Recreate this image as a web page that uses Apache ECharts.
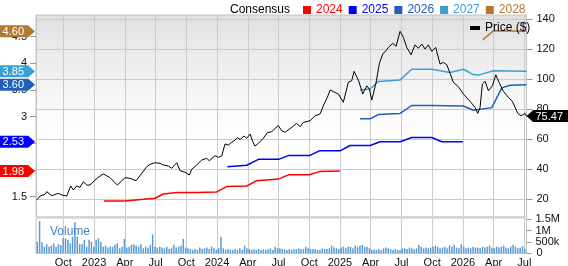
<!DOCTYPE html>
<html>
<head>
<meta charset="utf-8">
<script src="https://cdn.jsdelivr.net/npm/echarts@6/dist/echarts.min.js"></script>
<style>
html,body{margin:0;padding:0;background:#fff;}
#chart{width:568px;height:266px;}
</style>
</head>
<body>
<div id="chart"></div>
<script>
// x values are months counted from Jan 2022 (0 = Jan 2022)
var tickMonths = [9, 12, 15, 18, 21, 24, 27, 30, 33, 36, 39, 42, 45, 48, 51, 54];
var tickLabels = ['Oct', '2023', 'Apr', 'Jul', 'Oct', '2024', 'Apr', 'Jul', 'Oct', '2025', 'Apr', 'Jul', 'Oct', '2026', 'Apr', 'Jul'];

var priceTicks = [20, 40, 60, 80, 100, 120, 140];
var epsTicks = [1.5, 2, 2.5, 3, 3.5, 4, 4.5];
var volTicks = [0, 500000, 1000000, 1500000];
var volTickLabels = ['0', '500k', '1M', '1.5M'];

var years = ['2024', '2025', '2026', '2027', '2028'];
var yearColors = ['#ff0000', '#0000ff', '#1f5fb8', '#3ba0d2', '#b27a2e'];

// consensus EPS estimate per fiscal year [month, eps]
var eps2024 = [[12.97,1.42],[15.02,1.42],[16.81,1.45],[17.95,1.47],[18.76,1.55],[20.07,1.58],[22.02,1.58],[23.97,1.59],[24.95,1.69],[26.90,1.70],[27.88,1.80],[29.99,1.83],[30.96,1.91],[33.01,1.91],[33.99,1.97],[36.01,1.98]];
var eps2025 = [[25.01,2.06],[26.90,2.09],[28.04,2.20],[30.00,2.20],[30.96,2.27],[33.01,2.27],[33.99,2.36],[36.01,2.36],[36.99,2.46],[38.94,2.46],[39.92,2.53],[41.87,2.53],[43.01,2.61],[44.96,2.61],[45.94,2.53],[47.99,2.53]];
var eps2026 = [[37.96,2.96],[38.94,2.96],[39.75,3.04],[41.87,3.06],[43.01,3.21],[44.96,3.21],[48.05,3.20],[49.02,3.12],[50.82,3.17],[51.80,3.54],[52.61,3.59],[54.21,3.60]];
var eps2027 = [[37.96,3.50],[38.94,3.52],[39.75,3.66],[41.87,3.69],[43.01,3.89],[44.96,3.89],[46.75,3.83],[48.05,3.89],[49.02,3.79],[49.51,3.78],[50.97,3.86],[54.21,3.85]];
var eps2028 = [[49.94,4.44],[50.97,4.61],[54.21,4.60]];

var tagValues = [4.60, 3.85, 3.60, 2.53, 1.98];
var tagColors = ['#b27a2e', '#3ba0d2', '#1f5fb8', '#0000ff', '#ff0000'];
var lastPrice = 75.47;

var price = [[6.40,19.5],[6.73,22.2],[7.21,23.3],[7.38,25.1],[7.87,22.4],[8.51,24.0],[8.84,22.9],[9.33,22.2],[9.72,28.9],[9.98,26.2],[10.31,28.9],[10.63,28.0],[10.95,31.7],[11.28,29.5],[11.61,29.5],[12.09,32.9],[12.58,35.5],[12.90,36.9],[13.56,34.4],[14.27,29.5],[15.02,34.4],[15.51,34.0],[16.10,32.4],[16.65,37.3],[17.14,41.7],[17.46,43.3],[17.95,44.4],[18.44,44.0],[18.76,42.9],[19.25,42.2],[19.58,40.7],[20.07,44.4],[20.39,39.1],[20.88,38.0],[21.30,36.2],[21.53,40.0],[22.02,42.9],[22.51,46.2],[23.00,47.3],[23.25,45.7],[23.81,49.1],[24.13,48.0],[24.46,48.9],[24.78,56.9],[25.11,56.2],[25.44,58.0],[25.76,59.5],[25.99,61.1],[26.25,60.0],[26.64,62.2],[26.90,60.7],[27.23,63.5],[27.49,58.4],[27.71,55.5],[28.04,57.3],[28.52,60.7],[28.91,64.4],[29.34,65.1],[29.67,67.3],[29.99,69.1],[30.32,65.7],[30.64,64.7],[31.30,68.0],[31.78,70.7],[32.11,68.4],[32.43,71.3],[33.08,72.4],[33.57,75.7],[34.06,76.9],[34.45,83.5],[34.77,88.0],[35.04,92.9],[35.52,91.3],[35.85,90.2],[36.33,84.7],[36.82,98.0],[37.15,99.1],[37.38,105.3],[37.80,99.5],[38.23,90.2],[38.62,95.7],[38.87,93.5],[39.11,86.2],[39.53,98.0],[39.85,110.7],[40.18,116.9],[40.50,119.1],[40.73,121.3],[41.16,124.0],[41.48,122.0],[41.87,132.0],[42.19,128.0],[42.52,121.3],[42.94,116.4],[43.33,123.0],[43.65,120.7],[43.99,123.5],[44.31,120.2],[44.63,123.0],[44.96,118.7],[45.35,121.3],[45.77,110.2],[46.09,111.3],[46.43,109.7],[46.75,104.0],[47.07,98.0],[47.56,95.1],[48.05,90.2],[48.70,85.3],[49.19,81.3],[49.45,77.3],[49.68,81.3],[49.90,96.9],[50.17,98.7],[50.49,92.4],[50.88,95.7],[51.21,103.0],[51.53,98.0],[51.95,92.0],[52.44,88.0],[52.83,85.3],[53.36,77.3],[53.68,75.7],[54.07,77.3],[54.21,75.47]];

// weekly volume, thousands of shares, first week mid Jul 2022
var volStart = 6.45;
var volume = [510,1420,480,290,400,290,340,440,290,400,360,
  660,660,590,440,730,1360,730,400,400,590,290,590,510,290,
  590,660,510,290,340,250,290,290,370,440,220,290,630,250,
  290,370,400,340,290,400,220,290,250,370,830,290,250,290,
  250,220,290,190,250,370,250,290,340,630,250,220,190,150,
  190,150,250,190,220,250,190,290,220,150,220,720,220,150,
  190,150,150,190,150,220,150,340,220,190,150,180,150,190,
  150,180,150,180,220,150,290,220,220,190,180,150,190,150,
  180,190,220,180,190,290,220,190,180,190,150,150,220,190,
  190,220,340,250,220,190,250,290,220,290,290,220,340,290,
  340,370,290,290,220,150,180,150,190,150,220,250,220,190,
  150,190,150,150,220,220,190,250,220,180,220,370,290,220,
  250,220,250,290,340,290,220,250,290,220,340,290,370,250,
  220,400,290,220,250,220,290,250,250,220,290,250,290,340,
  250,220,290,250,290,340,250,220,290,370,290,220,250,310,200];

var chartDom = document.getElementById('chart');
var myChart = echarts.init(chartDom, null, {renderer: 'canvas'});

// tag shape drawn on a canvas, used as label background
function tagImage(color, dir) {
    var c = document.createElement('canvas');
    c.width = 80; c.height = 24;
    var g = c.getContext('2d');
    g.fillStyle = color;
    g.beginPath();
    if (dir === 'right') {
        g.moveTo(0, 0); g.lineTo(70, 0); g.lineTo(80, 12); g.lineTo(70, 24); g.lineTo(0, 24);
    } else {
        g.moveTo(10, 0); g.lineTo(80, 0); g.lineTo(80, 24); g.lineTo(10, 24); g.lineTo(0, 12);
    }
    g.closePath();
    g.fill();
    return c;
}

var tagRich = {};
tagValues.forEach(function (v, i) {
    tagRich['t' + i] = {
        color: '#fff', fontSize: 11, lineHeight: 12,
        padding: [1, 11, 0, 4],
        backgroundColor: {image: tagImage(tagColors[i], 'right')}
    };
});

function volData() {
    var out = [];
    for (var i = 0; i < volume.length; i++) {
        out.push([volStart + i * 7 / 30.44, volume[i] * 1000]);
    }
    return out;
}

function volLabel(v) {
    var i = volTicks.indexOf(Math.round(v));
    return i < 0 ? '' : volTickLabels[i];
}

var epsSeries = [eps2024, eps2025, eps2026, eps2027, eps2028];
var series = epsSeries.map(function (d, i) {
    return {
        name: years[i], type: 'line', xAxisIndex: 0, yAxisIndex: 0,
        data: d, showSymbol: false, symbol: 'none',
        lineStyle: {color: yearColors[i], width: 1.5},
        itemStyle: {color: yearColors[i]}
    };
});
series.push({
    name: 'Price ($)', type: 'line', xAxisIndex: 0, yAxisIndex: 1,
    data: price, showSymbol: false, symbol: 'none',
    lineStyle: {color: '#000', width: 1},
    itemStyle: {color: '#000'}
});
series.push({
    name: 'Volume', type: 'bar', xAxisIndex: 1, yAxisIndex: 4,
    data: volData(), barWidth: 1.5,
    itemStyle: {color: '#5b9bd5'}
});

var gridLine = {show: true, lineStyle: {color: '#cbcbcb', width: 1}};
var labelFont = {color: '#111', fontSize: 11, fontFamily: 'Liberation Sans'};

var option = {
    animation: false,
    textStyle: {fontFamily: 'Liberation Sans'},
    title: [
        {text: 'Consensus', left: 225, top: -1,
         textStyle: {fontSize: 12, fontWeight: 'normal', color: '#000'}},
        {text: 'Volume', left: 45, top: 221,
         textStyle: {fontSize: 12, fontWeight: 'normal', color: '#3d85c6'}}
    ],
    legend: [
        {
            left: 298, top: -1, itemWidth: 8, itemHeight: 8, itemGap: 6, icon: 'rect',
            selectedMode: false,
            data: years.map(function (y, i) {
                return {name: y, textStyle: {color: yearColors[i], fontSize: 12}};
            })
        },
        {
            left: 465, top: 17, itemWidth: 10, itemHeight: 4, icon: 'rect',
            selectedMode: false,
            data: [{name: 'Price ($)', textStyle: {color: '#000', fontSize: 12}}]
        }
    ],
    grid: [
        {left: 36, right: 41.5, top: 15, height: 202, outerBoundsMode: 'none', containLabel: false,
         show: true, borderColor: '#c4c4c4', borderWidth: 1,
         backgroundColor: {type: 'linear', x: 0, y: 0, x2: 0, y2: 1,
            colorStops: [{offset: 0, color: '#e1e1e1'}, {offset: 0.5, color: '#fbfbfb'}, {offset: 0.62, color: '#ffffff'}]}},
        {left: 36, right: 41.5, top: 218, bottom: 12.7, outerBoundsMode: 'none', containLabel: false,
         show: true, borderColor: '#c4c4c4', borderWidth: 1, backgroundColor: '#fff'}
    ],
    xAxis: [
        {
            gridIndex: 0, type: 'value', min: 6.33, max: 54.21,
            axisLine: {show: true, onZero: false, lineStyle: {color: '#d6d6d6', width: 2}},
            axisTick: {show: false, customValues: tickMonths},
            axisLabel: {show: false, customValues: tickMonths},
            splitLine: gridLine
        },
        {
            gridIndex: 1, type: 'value', min: 6.33, max: 54.21,
            axisLine: {show: false, onZero: false},
            axisTick: {show: false, customValues: tickMonths},
            axisLabel: Object.assign({show: true, margin: 4, customValues: tickMonths,
                showMinLabel: true, showMaxLabel: true,
                formatter: function (v) {
                    var i = tickMonths.indexOf(Math.round(v));
                    return i < 0 ? '' : tickLabels[i];
                }}, labelFont),
            splitLine: gridLine
        }
    ],
    yAxis: [
        {
            gridIndex: 0, type: 'value', position: 'left', min: 1.119, max: 4.907,
            axisLine: {show: true, onZero: false, lineStyle: {color: '#c4c4c4'}},
            axisTick: {show: true, length: 6, customValues: epsTicks, lineStyle: {color: '#999'}},
            axisLabel: Object.assign({margin: 9, customValues: epsTicks}, labelFont),
            splitLine: {show: false}
        },
        {
            gridIndex: 0, type: 'value', position: 'right', min: 8.2, max: 142.9,
            axisLine: {show: true, onZero: false, lineStyle: {color: '#c4c4c4'}},
            axisTick: {show: true, length: 6, customValues: priceTicks, lineStyle: {color: '#999'}},
            axisLabel: Object.assign({margin: 10, customValues: priceTicks}, labelFont),
            splitLine: gridLine
        },
        {
            gridIndex: 0, type: 'value', position: 'left', min: 1.119, max: 4.907, z: 10,
            axisLine: {show: false, onZero: false}, axisTick: {show: false}, splitLine: {show: false},
            axisLabel: {
                margin: 1, customValues: tagValues, rich: tagRich,
                formatter: function (v) {
                    var best = 0;
                    for (var i = 1; i < tagValues.length; i++) {
                        if (Math.abs(tagValues[i] - v) < Math.abs(tagValues[best] - v)) best = i;
                    }
                    return '{t' + best + '|' + tagValues[best].toFixed(2) + '}';
                }
            }
        },
        {
            gridIndex: 0, type: 'value', position: 'right', min: 8.2, max: 142.9, z: 10,
            axisLine: {show: false, onZero: false}, axisTick: {show: false}, splitLine: {show: false},
            axisLabel: {
                margin: 0, customValues: [lastPrice],
                formatter: function () { return '{p|' + lastPrice.toFixed(2) + '}'; },
                rich: {p: {color: '#fff', fontSize: 11, lineHeight: 12, padding: [1, 4, 0, 9],
                    backgroundColor: {image: tagImage('#000', 'left')}}}
            }
        },
        {
            gridIndex: 1, type: 'value', position: 'right', min: 0, max: 1550000,
            axisLine: {show: true, onZero: false, lineStyle: {color: '#c4c4c4'}},
            axisTick: {show: true, length: 5, customValues: volTicks, lineStyle: {color: '#999'}},
            axisLabel: Object.assign({margin: 9, lineHeight: 11, customValues: volTicks.slice(1),
                formatter: volLabel}, labelFont),
            splitLine: {show: false}
        }
    ],
    series: series
};

myChart.setOption(option);

// the zero label of the volume scale gets dropped by the axis, so place it
// from the volume scale itself
try {
    var zeroPt = myChart.convertToPixel({xAxisIndex: 1, yAxisIndex: 4}, [54.21, volTicks[0]]);
    if (zeroPt) {
        myChart.setOption({
            graphic: [{
                type: 'text', x: zeroPt[0] + 10, y: zeroPt[1], z: 20,
                style: {text: volTickLabels[0], fill: '#111', fontSize: 11,
                    fontFamily: 'Liberation Sans', align: 'left', verticalAlign: 'middle'}
            }]
        });
    }
} catch (e) {}
</script>
</body>
</html>
